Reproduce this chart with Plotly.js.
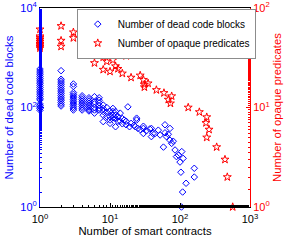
<!DOCTYPE html>
<html>
<head>
<meta charset="utf-8">
<script src="https://cdn.plot.ly/plotly-3.0.1.min.js"></script>
<style>html,body{margin:0;padding:0;background:#fff;}#chart{width:291px;height:241px;}</style>
</head>
<body>
<div id="chart"></div>
<script>
// Blue series: number of dead code blocks
const blueX = [
 1,1,1,1,1,1,1,1,1,1,1,1,1,1,1,1,1,1,1,1,1,1,1,
 2,2,2,2,2,2,2,2,2,2,2,2,2,2,2,2,2,
 3,3,3,3,3,3,3,3,3,3,3,3,3,
 4,4,4,4,4,4,4,4,4,
 5,5,5,5,5,5,5,5,5,
 6,6,6,6,6,6,
 7,7,7,7,7,7,
 8,8,8,8,8,
 9,9,9,
 10,10,10,10,
 11,11,11,11,
 12,12,12,12,
 13,13,14,14,15,15,16,17,17,18,19,20,22,23,24,24,25,27,
 30,30,30,33,37,39,39,41,44,49,52,58,61,61,64,68,72,72,76,80,
 85,89,95,100,103,105,106,109,111,122,160,160
];
const blueY = [
 594,540,495,455,420,385,355,325,300,275,252,232,213,196,180,166,153,142,118,110,102,95,88,
 550,370,340,312,287,264,243,224,206,190,175,161,148,137,126,116,107,
 297,265,200,184,169,156,144,133,123,114,105,97,89,
 172,158,145,134,123,114,105,97,89,
 157,144,133,122,112,104,96,89,85,
 165,130,118,100,89,77,
 157,140,125,109,97,89,
 112,95,83,70,52,
 100,80,66,
 85,65,56,48,
 96,83,70,62,
 83,70,60,41,
 66,53,77,53,60,47,56,53,45,103,41,48,44,41,56,61,38,36,
 42,38,30,34,37,38,26,30,30,35,28,16,45,31,26,29,38,22,19,21,
 14,10.3,11,8,5,1,13,2,9.5,3,6,4
];
// Red series: number of opaque predicates
const redX = [1,1,1,1,1,1,1,1,1, 2,2,2, 3,3, 4, 5, 6,6, 7,7, 8,8, 9, 10, 11,11, 12, 13, 15, 17, 20, 27, 30, 31,31, 35, 46, 59, 68, 73, 76, 131, 189, 241, 235, 260, 241, 334, 439, 474, 566];
const redY = [61,52,50,48,46,44,42.5,41,39.5, 66,47,41, 57,50, 38, 48, 43,28, 38.5,36, 32,24, 29, 23, 35,30, 26, 24.5, 22, 33, 20, 21, 19, 17,16, 17.5, 15, 14, 12, 11, 13, 10, 9, 8, 7, 6, 5, 4, 3, 2, 1];

const seriesNames = ['Number of dead code blocks', 'Number of opaque predicates'];

const xTickVals = [1, 10, 100, 1000];
const xTickText = ['10<sup>0</sup>', '10<sup>1</sup>', '10<sup>2</sup>', '10<sup>3</sup>'];
const yTickVals = [1, 100, 10000];
const yTickText = ['10<sup>0</sup>', '10<sup>2</sup>', '10<sup>4</sup>'];
const y2TickVals = [1, 10, 100];
const y2TickText = ['10<sup>0</sup>', '10<sup>1</sup>', '10<sup>2</sup>'];

const BLUE = '#0000ff', RED = '#ff0000';
const FONT = 'Liberation Sans, Arial, sans-serif';
const TITLE_SIZE = 11.3;

const traces = [
  {x: blueX, y: blueY, type: 'scatter', mode: 'markers', name: seriesNames[0],
   marker: {symbol: 'diamond-open', size: 5, color: BLUE, line: {width: 1, color: BLUE}}, cliponaxis: false},
  {x: redX, y: redY, type: 'scatter', mode: 'markers', name: seriesNames[1], yaxis: 'y2',
   marker: {symbol: 'star-open', size: 6, color: RED, line: {width: 1, color: RED}}, cliponaxis: false}
];

const layout = {
  width: 291, height: 241,
  margin: {l: 40, r: 41, t: 8, b: 34},
  paper_bgcolor: '#fff', plot_bgcolor: '#fff',
  font: {family: FONT, size: 11, color: '#000'},
  showlegend: true,
  legend: {x: 0.175, y: 0.997, xanchor: 'left', yanchor: 'top', bgcolor: '#fff',
           bordercolor: '#8c8c8c', borderwidth: 1, itemwidth: 30,
           font: {size: 10, family: FONT, color: '#000'}, tracegroupgap: 0},
  xaxis: {type: 'log', range: [0, 3], tickvals: xTickVals, ticktext: xTickText,
          ticks: 'inside', ticklen: 4, tickcolor: '#000', showline: true, linecolor: '#000', linewidth: 1,
          mirror: true, showgrid: false, zeroline: false, ticklabelstandoff: 2,
          minor: {ticks: 'inside', ticklen: 2, tickcolor: '#000', showgrid: false},
          title: {text: 'Number of smart contracts', font: {size: TITLE_SIZE, family: FONT}, standoff: 0},
          tickfont: {size: 11, family: FONT}},
  yaxis: {type: 'log', range: [0, 4], tickvals: yTickVals, ticktext: yTickText,
          ticks: 'inside', ticklen: 4, tickcolor: BLUE, showline: true, linecolor: BLUE, linewidth: 1,
          showgrid: false, zeroline: false, color: BLUE,
          minor: {ticks: 'inside', ticklen: 2, tickcolor: BLUE, showgrid: false},
          title: {text: 'Number of dead code blocks', font: {size: TITLE_SIZE, color: BLUE, family: FONT}, standoff: 4},
          tickfont: {size: 11, color: BLUE, family: FONT}},
  yaxis2: {type: 'log', range: [0, 2], overlaying: 'y', side: 'right', tickvals: y2TickVals, ticktext: y2TickText,
          ticks: 'inside', ticklen: 4, tickcolor: RED, showline: true, linecolor: RED, linewidth: 1,
          showgrid: false, zeroline: false, color: RED,
          minor: {ticks: 'inside', ticklen: 2, tickcolor: RED, showgrid: false},
          title: {text: 'Number of opaque predicates', font: {size: TITLE_SIZE, color: RED, family: FONT}, standoff: 4},
          tickfont: {size: 11, color: RED, family: FONT}}
};

Plotly.newPlot('chart', traces, layout, {displayModeBar: false, staticPlot: true});
</script>
</body>
</html>
